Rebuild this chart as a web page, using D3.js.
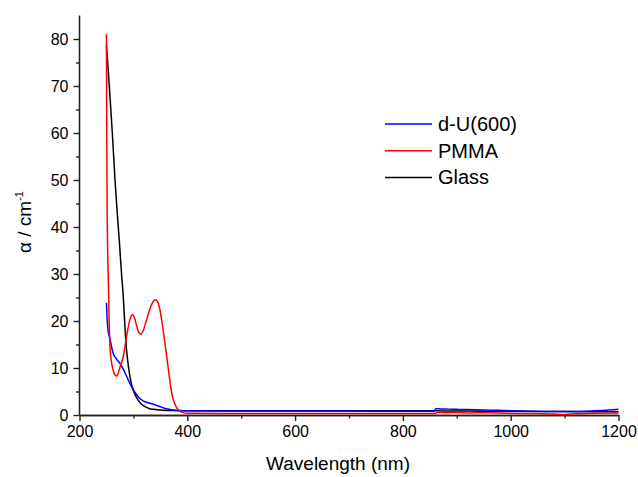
<!DOCTYPE html>
<html><head><meta charset="utf-8">
<script src="https://cdn.jsdelivr.net/npm/d3@7"></script>
<style>body{margin:0;background:#fff}svg{display:block}text{font-family:"Liberation Sans",Arial,sans-serif;fill:#000}</style>
</head><body>
<svg id="c" width="638" height="477"></svg>
<script>
const seriesNames = ["d-U(600)", "PMMA", "Glass"];
const seriesColors = ["#0000ff", "#ff0000", "#000000"];
const xTicks = [200, 400, 600, 800, 1000, 1200];
const yTicks = [0, 10, 20, 30, 40, 50, 60, 70, 80];
const xTitle = "Wavelength (nm)";

const dU600 = [[250,23.9],[251,21],[253,18],[256.6,16.2],[260,14.2],[263,13],[268,12],[275,11],[281,9.8],[287.6,8.2],[294,6.6],[300,5.3],[306,4.3],[312,3.5],[320,2.9],[331,2.5],[340,2.15],[349,1.8],[358,1.45],[368,1.15],[380,0.95],[400,0.88],[500,0.85],[600,0.85],[700,0.83],[800,0.82],[858,0.82],[861,1.35],[870,1.3],[885,1.25],[900,1.2],[920,1.15],[950,1.05],[975,1.0],[1000,0.92],[1040,0.8],[1080,0.72],[1110,0.72],[1140,0.8],[1170,0.95],[1200,1.2]];
const pmma = [[250,81],[250.5,62],[251.2,45],[252.4,34],[253.5,28.7],[255,20],[256.6,14.5],[259,11.5],[262.7,9.4],[266,8.5],[269,8.3],[272,9],[276,10.5],[281.3,12.5],[286,15.8],[290.6,18.8],[295,20.8],[298.7,21.4],[302,20.7],[306,19],[310,17.5],[314,17.2],[318,17.9],[323,19.7],[329,22],[335,23.8],[340.7,24.5],[345,24.1],[349,22.5],[352.5,20.2],[357,16.5],[361.8,12.4],[365.5,9.2],[369.2,6.0],[373,3.7],[377.2,2.3],[381,1.4],[386.5,0.8],[392,0.5],[400,0.35],[500,0.3],[600,0.3],[700,0.3],[800,0.3],[860,0.3],[863,0.55],[880,0.5],[900,0.55],[925,0.45],[950,0.5],[975,0.42],[1000,0.35],[1050,0.3],[1080,0.2],[1100,0.12],[1120,0.25],[1150,0.35],[1200,0.45]];
const glass = [[250,78.7],[255.3,70],[260.9,60],[265.9,50],[270,43],[273.9,37],[278,30],[281.3,25],[284.4,18.5],[287,14.2],[290.6,10.5],[295,7.3],[299.9,5.2],[304,4.1],[309.1,3.1],[315,2.3],[321.5,1.8],[329,1.4],[336.9,1.2],[348,1.05],[361.8,0.95],[400,0.93],[500,0.93],[600,0.92],[700,0.92],[800,0.9],[860,0.88],[900,0.85],[950,0.82],[1000,0.78],[1100,0.72],[1200,0.68]];
const allSeries = [dU600, pmma, glass];

const svg = d3.select("#c");
const x = d3.scaleLinear().domain([200, 1200]).range([79.5, 618.5]);
const y = d3.scaleLinear().domain([0, 85]).range([415, 15.5]);

// axes
const axisColor = "#222";
const xMinor = d3.range(300, 1200, 200);
const yMinor = d3.range(5, 85, 10);
const gx = svg.append("g").attr("transform", "translate(0,415)");
gx.call(d3.axisBottom(x).tickValues(xTicks).tickSize(6).tickSizeOuter(0).tickPadding(5).tickFormat(d3.format("d")));
gx.append("g").call(d3.axisBottom(x).tickValues(xMinor).tickSize(3.5).tickSizeOuter(0).tickFormat(""));
const gy = svg.append("g").attr("transform", "translate(79.5,0)");
gy.call(d3.axisLeft(y).tickValues(yTicks).tickSize(6).tickSizeOuter(0).tickPadding(5).tickFormat(d3.format("d")));
gy.append("g").call(d3.axisLeft(y).tickValues(yMinor).tickSize(3.5).tickSizeOuter(0).tickFormat(""));
svg.selectAll(".domain").attr("stroke", axisColor).attr("stroke-width", 1.6);
svg.selectAll(".tick line").attr("stroke", axisColor).attr("stroke-width", 1.4);
svg.selectAll(".tick text").attr("font-size", 16).attr("font-family", "Liberation Sans, Arial, sans-serif").attr("fill", "#111");
gy.selectAll(".domain").remove();
gy.append("line").attr("x1",0).attr("x2",0).attr("y1",y(0)).attr("y2",y(85)).attr("stroke",axisColor).attr("stroke-width",1.6);

// lines
const line = d3.line().x(d => x(d[0])).y(d => y(d[1])).curve(d3.curveMonotoneX);
const order = [2, 0, 1];
order.forEach(i => {
  svg.append("path").datum(allSeries[i]).attr("d", line)
    .attr("fill", "none").attr("stroke", seriesColors[i]).attr("stroke-width", 1.5).attr("stroke-linejoin","round");
});

// titles
svg.append("text").attr("x", 338).attr("y", 470).attr("text-anchor", "middle").attr("font-size", 19).text(xTitle);
const yl = svg.append("text").attr("transform", "translate(31,222) rotate(-90)").attr("text-anchor", "middle").attr("font-size", 19);
yl.append("tspan").text("α / cm");
yl.append("tspan").attr("font-size", 11).attr("dy", -8).text("-1");

// legend
const lg = svg.append("g");
seriesNames.forEach((n, i) => {
  const yy = 124 + i * 26.7;
  lg.append("line").attr("x1", 385).attr("x2", 432).attr("y1", yy).attr("y2", yy).attr("stroke", seriesColors[i]).attr("stroke-width", 1.5);
  lg.append("text").attr("x", 438).attr("y", yy).attr("dy", "0.35em").attr("font-size", 20).text(n);
});
</script>
</body></html>
